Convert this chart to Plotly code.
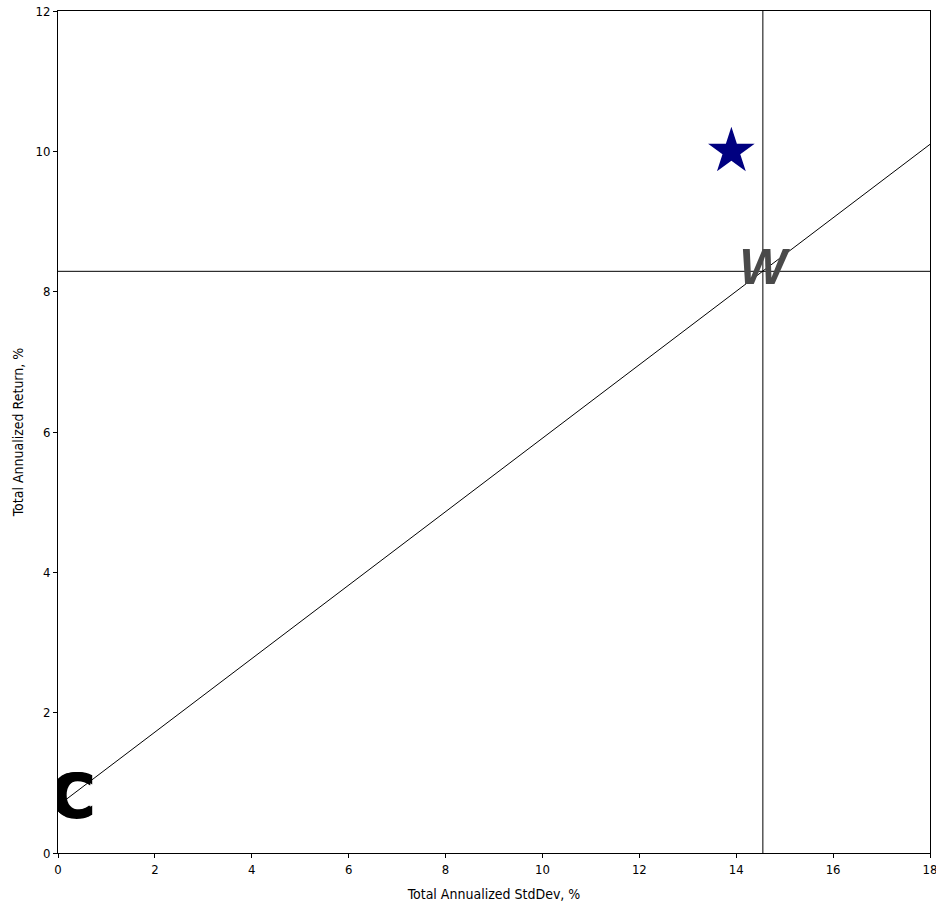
import plotly.graph_objects as go

# Data
star_x = [13.9]
star_y = [10.0]
w_x = [14.55]
w_y = [8.29]
c_label_x = [0.29]
c_label_y = [0.72]
cml_x = [0.18, 18.0]
cml_y = [0.77, 10.10]
x_ticks = [0, 2, 4, 6, 8, 10, 12, 14, 16, 18]
y_ticks = [0, 2, 4, 6, 8, 10, 12]

FONT = "DejaVu Sans Condensed, Liberation Sans Narrow, Arial Narrow, sans-serif"

fig = go.Figure()

fig.add_trace(go.Scatter(x=cml_x, y=cml_y, mode="lines",
                         line=dict(color="black", width=1), hoverinfo="skip"))

fig.add_trace(go.Scatter(x=star_x, y=star_y, mode="markers",
                         marker=dict(symbol="star", size=35, color="#000080",
                                     line=dict(width=0))))

fig.add_trace(go.Scatter(x=w_x, y=w_y, mode="text", text=["<b><i>W</i></b>"],
                         textposition="middle center",
                         textfont=dict(family="Liberation Sans, Arial, sans-serif",
                                       size=50, color="#4a4a4a")))

fig.add_trace(go.Scatter(x=c_label_x, y=c_label_y, mode="text", text=["<b>C</b>"],
                         textposition="middle center",
                         textfont=dict(family="DejaVu Sans, sans-serif",
                                       size=60, color="black",
                                       shadow="2px 0 0 black, -1px 0 0 black, 0 1px 0 black")))

fig.add_shape(type="line", xref="x", yref="paper", x0=w_x[0], x1=w_x[0], y0=0, y1=1,
              line=dict(color="black", width=1), layer="below")
fig.add_shape(type="line", xref="paper", yref="y", x0=0, x1=1, y0=w_y[0], y1=w_y[0],
              line=dict(color="black", width=1), layer="below")

fig.update_layout(
    width=936, height=902,
    margin=dict(l=58, r=6, t=11, b=49, autoexpand=False),
    paper_bgcolor="white", plot_bgcolor="white",
    showlegend=False,
    font=dict(family=FONT, size=13, color="black"),
    xaxis=dict(range=[0, 18], tickvals=x_ticks, ticks="outside", ticklen=4,
               tickwidth=1, tickcolor="black", showline=True, linecolor="black",
               linewidth=1, mirror=True, showgrid=False, zeroline=False,
               ticklabeloverflow="allow", automargin=False,
               tickfont=dict(family=FONT, size=13),
               title=dict(text="Total Annualized StdDev, %", standoff=14,
                          font=dict(family=FONT, size=14))),
    yaxis=dict(range=[0, 12], tickvals=y_ticks, ticks="outside", ticklen=4,
               tickwidth=1, tickcolor="black", showline=True, linecolor="black",
               linewidth=1, mirror=True, showgrid=False, zeroline=False,
               automargin=False,
               tickfont=dict(family=FONT, size=13),
               title=dict(text="Total Annualized Return, %", standoff=8,
                          font=dict(family=FONT, size=14))),
)

fig.write_html("out.html")
